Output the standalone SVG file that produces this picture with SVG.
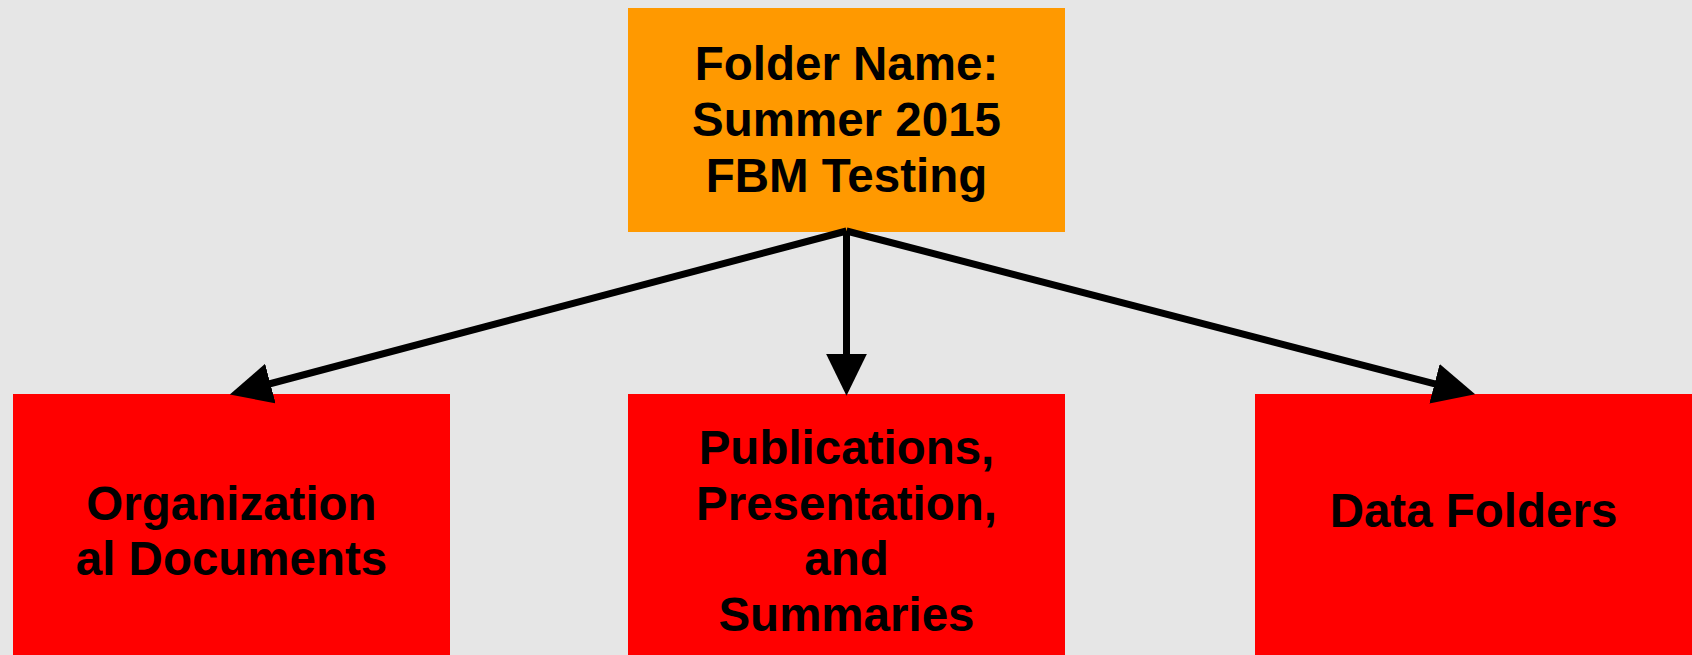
<svg xmlns="http://www.w3.org/2000/svg" width="1692" height="655" viewBox="0 0 1692 655">
<defs>
<style>
.txt{font-family:"Liberation Sans",Arial,sans-serif;font-weight:bold;font-size:47.5px;fill:#000;text-anchor:middle}
.conn{stroke:#000;stroke-width:7;fill:none;marker-end:url(#ah)}
</style>
<marker id="ah" markerUnits="userSpaceOnUse" markerWidth="42" markerHeight="42" viewBox="0 0 40 40" refX="5" refY="19.5" orient="auto">
<path d="M0,0 L40,19.5 L0,39 z" fill="#000"/>
</marker>
</defs>
<rect width="1692" height="655" fill="#e6e6e6"/>
<g id="root">
<rect x="628" y="8" width="437" height="224" fill="#ff9900"/>
<text class="txt" x="846.5" y="80">Folder Name:</text>
<text class="txt" x="846.5" y="135.5">Summer 2015</text>
<text class="txt" x="846.5" y="191.5">FBM Testing</text>
</g>
<g id="org">
<rect x="13" y="394" width="437" height="261" fill="#ff0000"/>
<text class="txt" x="231.5" y="519.5">Organization</text>
<text class="txt" x="231.5" y="575">al Documents</text>
</g>
<g id="pub">
<rect x="628" y="394" width="437" height="261" fill="#ff0000"/>
<text class="txt" x="846.5" y="463.5">Publications,</text>
<text class="txt" x="846.5" y="519.5">Presentation,</text>
<text class="txt" x="846.5" y="575">and</text>
<text class="txt" x="846.5" y="631">Summaries</text>
</g>
<g id="data">
<rect x="1255" y="394" width="437" height="261" fill="#ff0000"/>
<text class="txt" x="1473.5" y="527">Data Folders</text>
</g>
<g id="connectors">
<line class="conn" x1="846.5" y1="231" x2="265.3" y2="385"/>
<line class="conn" x1="846.5" y1="231" x2="846.5" y2="359"/>
<line class="conn" x1="846.5" y1="231" x2="1439.6" y2="385.1"/>
</g>
</svg>
